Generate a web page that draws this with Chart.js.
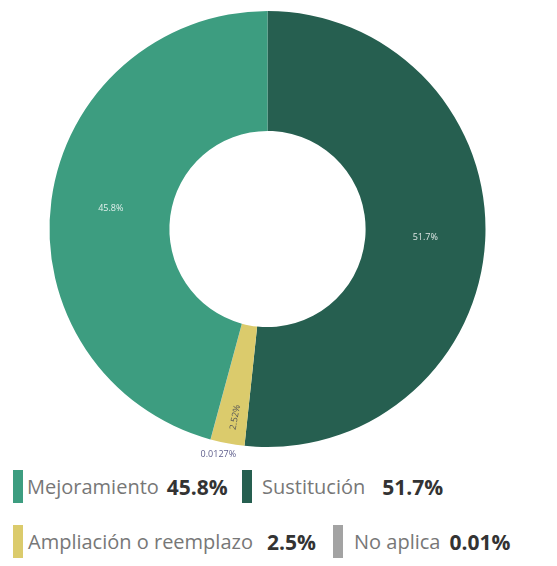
<!DOCTYPE html>
<html lang="es">
<head>
  <meta charset="UTF-8">
  <title>Tipo de obra</title>
  <script src="https://cdn.jsdelivr.net/npm/chart.js"></script>
  <style>
    * { box-sizing: border-box; margin: 0; padding: 0; }
    body { width: 557px; height: 566px; background: #fff; font-family: 'Open Sans', sans-serif; position: relative; overflow: hidden; }
    .wrap { position: absolute; left: 0; top: 0; width: 557px; height: 458px; }
    .item { position: absolute; display: flex; align-items: center; height: 33px; white-space: nowrap; }
    .item .bar { width: 10px; height: 33px; }
    .item .name { font-size: 20px; color: #777; }
    .item .val { font-size: 21px; font-weight: 700; color: #333; }
  </style>
</head>
<body>
  <div class="wrap"><canvas id="donut"></canvas></div>
  <div id="legend"></div>
  <script>
    // orden de los segmentos: desde las 12 en sentido horario
    const labels = ['Sustitución', 'Ampliación o reemplazo', 'No aplica', 'Mejoramiento'];
    const values = [51.7, 2.52, 0.0127, 45.8];
    const colors = ['#265f50', '#dbcb6c', '#a3a3a3', '#3d9d80'];
    const sliceText = ['51.7%', '2.52%', '0.0127%', '45.8%'];
    const legendText = ['51.7%', '2.5%', '0.01%', '45.8%'];

    // leyenda: orden de dibujo y posiciones
    const legendOrder = [3, 0, 1, 2];
    const legendPos = [
      { x: 13, y: 470, barGap: 4, valGap: 8 },
      { x: 242, y: 470, barGap: 10, valGap: 17 },
      { x: 13, y: 525, barGap: 5, valGap: 14 },
      { x: 333, y: 525, barGap: 11, valGap: 9 }
    ];

    const legend = document.getElementById('legend');
    legendOrder.forEach((i, k) => {
      const p = legendPos[k];
      const el = document.createElement('div');
      el.className = 'item';
      el.style.left = p.x + 'px';
      el.style.top = p.y + 'px';
      el.innerHTML = '<span class="bar" style="background:' + colors[i] + ';margin-right:' + p.barGap + 'px"></span>' +
        '<span class="name">' + labels[i] + '</span>' +
        '<span class="val" style="margin-left:' + p.valGap + 'px">' + legendText[i] + '</span>';
      legend.appendChild(el);
    });

    const sliceLabels = {
      id: 'sliceLabels',
      afterDatasetsDraw(chart) {
        const ctx = chart.ctx;
        const arcs = chart.getDatasetMeta(0).data;
        ctx.save();
        ctx.textAlign = 'center';
        ctx.textBaseline = 'middle';
        arcs.forEach((arc, i) => {
          const mid = (arc.startAngle + arc.endAngle) / 2;
          let r, color, rot = 0, dx = 0;
          if (i === 0 || i === 3) {
            r = (arc.innerRadius + arc.outerRadius) / 2;
            color = 'rgba(255,255,255,0.85)';
          } else if (i === 1) {
            r = arc.innerRadius + (arc.outerRadius - arc.innerRadius) * 0.78;
            color = '#555';
            rot = mid + Math.PI;
            dx = 3;
          } else {
            r = arc.outerRadius + 16;
            color = '#5e5e8c';
            dx = 12;
          }
          const x = arc.x + Math.cos(mid) * r + dx;
          const y = arc.y + Math.sin(mid) * r;
          ctx.font = '9px "Open Sans", sans-serif';
          ctx.fillStyle = color;
          ctx.translate(x, y);
          ctx.rotate(rot);
          ctx.fillText(sliceText[i], 0, 0);
          ctx.setTransform(1, 0, 0, 1, 0, 0);
        });
        ctx.restore();
      }
    };

    new Chart(document.getElementById('donut'), {
      type: 'doughnut',
      data: {
        labels: labels,
        datasets: [{ data: values, backgroundColor: colors, borderWidth: 0 }]
      },
      options: {
        responsive: true,
        maintainAspectRatio: false,
        animation: false,
        cutout: '45%',
        layout: { padding: { top: 11, bottom: 11, left: 0, right: 22 } },
        plugins: { legend: { display: false }, tooltip: { enabled: false } }
      },
      plugins: [sliceLabels]
    });
  </script>
</body>
</html>
